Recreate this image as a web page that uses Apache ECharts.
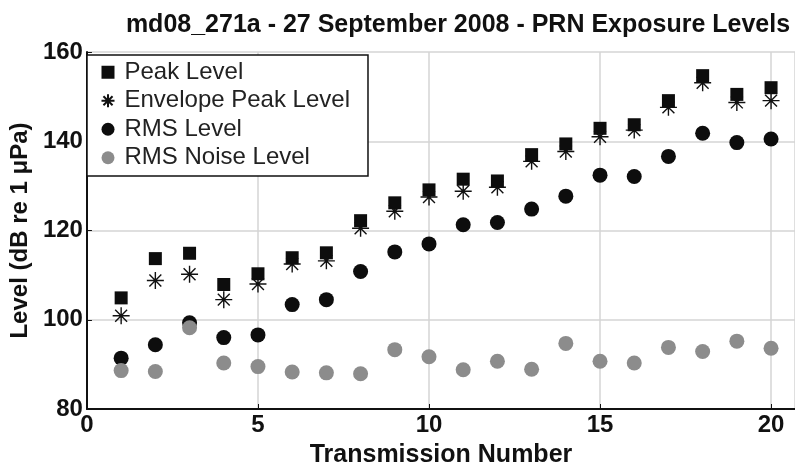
<!DOCTYPE html>
<html>
<head>
<meta charset="utf-8">
<script src="https://cdn.jsdelivr.net/npm/echarts@6/dist/echarts.min.js"></script>
<style>
  html, body { margin: 0; padding: 0; background: #fff; }
  #chart { width: 795px; height: 473px; }
</style>
</head>
<body>
<div id="chart"></div>
<script>
// transmission numbers 1..20
const transmissions = [1, 2, 3, 4, 5, 6, 7, 8, 9, 10, 11, 12, 13, 14, 15, 16, 17, 18, 19, 20];
const peakLevel = [104.9, 113.7, 114.9, 107.9, 110.3, 113.9, 115.0, 122.2, 126.2, 129.1,
  131.5, 131.1, 137.0, 139.4, 142.9, 143.7, 149.1, 154.7, 150.5, 152.0];
const envelopePeak = [100.9, 108.8, 110.2, 104.5, 108.0, 112.5, 113.2, 120.5, 124.3, 127.5,
  128.8, 129.7, 135.5, 137.7, 141.0, 142.5, 147.6, 153.1, 148.7, 149.1];
const rmsLevel = [91.4, 94.4, 99.3, 96.0, 96.6, 103.4, 104.5, 110.8, 115.2, 117.0,
  121.3, 121.8, 124.8, 127.7, 132.4, 132.1, 136.6, 141.8, 139.7, 140.5];
const rmsNoise = [88.6, 88.4, 98.2, 90.3, 89.5, 88.3, 88.1, 87.9, 93.3, 91.7,
  88.8, 90.7, 88.9, 94.7, 90.7, 90.3, 93.8, 92.9, 95.2, 93.6];

const font = '"Liberation Sans", Arial, sans-serif';
const asterisk = 'path://M0,-10 L0,10 M-10,0 L10,0 M-7,-7 L7,7 M-7,7 L7,-7';

function pairs(vals) {
  return transmissions.map((t, i) => [t, vals[i]]);
}

let myChart = echarts.init(document.getElementById('chart'), null, { renderer: 'canvas' });

let option = {
  backgroundColor: '#fff',
  animation: false,
  title: {
    text: 'md08_271a - 27 September 2008 - PRN Exposure Levels',
    left: 453,
    textAlign: 'center',
    top: 8,
    textStyle: { fontFamily: font, fontWeight: 'bold', fontSize: 25, color: '#111' },
  },
  legend: {
    orient: 'vertical',
    left: 87,
    top: 55,
    padding: [5, 18, 6, 12],
    itemGap: 4,
    itemWidth: 13,
    itemHeight: 13,
    backgroundColor: '#fff',
    borderColor: '#111',
    borderWidth: 1.5,
    borderRadius: 0,
    textStyle: { fontFamily: font, fontSize: 24, lineHeight: 24.5, color: '#222', padding: [0, 0, 0, 5] },
    data: ['Peak Level', 'Envelope Peak Level', 'RMS Level', 'RMS Noise Level'],
  },
  grid: { left: 85, right: 0, top: 52, bottom: 57 },
  xAxis: {
    type: 'value',
    min: 0,
    max: 20.7,
    interval: 5,
    name: 'Transmission Number',
    nameLocation: 'middle',
    nameGap: 34,
    nameTextStyle: { fontFamily: font, fontWeight: 'bold', fontSize: 25, color: '#111' },
    axisLine: { lineStyle: { color: '#111', width: 2 } },
    axisTick: { inside: true, length: 5, lineStyle: { color: '#111' } },
    axisLabel: { fontFamily: font, fontWeight: 'bold', fontSize: 24, color: '#111', margin: 4 },
    splitLine: { show: true, lineStyle: { color: '#d4d4d4', width: 1.5 } },
  },
  yAxis: {
    type: 'value',
    min: 80,
    max: 160,
    interval: 20,
    name: 'Level (dB re 1 \u03bcPa)',
    nameLocation: 'middle',
    nameGap: 52,
    nameTextStyle: { fontFamily: font, fontWeight: 'bold', fontSize: 24, color: '#111' },
    axisLine: { show: true, lineStyle: { color: '#111', width: 2 } },
    axisTick: { show: true, inside: true, length: 5, lineStyle: { color: '#111' } },
    axisLabel: { fontFamily: font, fontWeight: 'bold', fontSize: 24, color: '#111', margin: 4 },
    splitLine: { show: true, lineStyle: { color: '#d4d4d4', width: 1.5 } },
  },
  series: [
    {
      name: 'Envelope Peak Level',
      type: 'scatter',
      symbol: asterisk,
      symbolSize: 17,
      z: 2,
      itemStyle: { color: 'none', borderColor: '#111', borderWidth: 1.4, opacity: 1 },
      data: pairs(envelopePeak),
    },
    {
      name: 'Peak Level',
      type: 'scatter',
      symbol: 'rect',
      symbolSize: 13,
      z: 3,
      itemStyle: { color: '#0d0d0d', opacity: 1 },
      data: pairs(peakLevel),
    },
    {
      name: 'RMS Level',
      type: 'scatter',
      symbol: 'circle',
      symbolSize: 15,
      z: 3,
      itemStyle: { color: '#0d0d0d', opacity: 1 },
      data: pairs(rmsLevel),
    },
    {
      name: 'RMS Noise Level',
      type: 'scatter',
      symbol: 'circle',
      symbolSize: 15,
      z: 4,
      itemStyle: { color: '#8c8c8c', opacity: 1 },
      data: pairs(rmsNoise),
    },
  ],
};

myChart.setOption(option);
</script>
</body>
</html>
